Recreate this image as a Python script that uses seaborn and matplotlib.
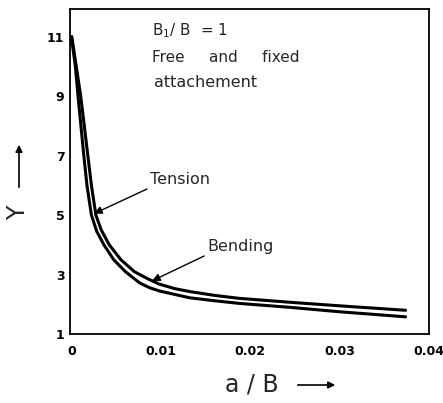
import matplotlib
matplotlib.use("Agg")
import matplotlib.pyplot as plt
import matplotlib.patches as mpatches
import seaborn as sns
import pandas as pd

# Data
tension_x = [0.0, 0.0005, 0.001, 0.0018, 0.0022, 0.0027, 0.0033, 0.0042, 0.0055, 0.007, 0.0085,
             0.0098, 0.0115, 0.0132, 0.016, 0.0188, 0.0244, 0.03, 0.0374]
tension_y = [11.0, 10.0, 9.0, 7.0, 6.0, 5.0, 4.5, 4.0, 3.5, 3.1, 2.86,
             2.68, 2.53, 2.43, 2.3, 2.2, 2.07, 1.95, 1.8]
bending_x = [0.0, 0.0004, 0.0007, 0.00135, 0.0017, 0.0022, 0.0028, 0.0036, 0.0047, 0.006, 0.0076,
             0.0087, 0.0098, 0.0132, 0.016, 0.0188, 0.0244, 0.03, 0.0374]
bending_y = [10.9, 10.0, 9.0, 7.0, 6.0, 5.0, 4.45, 4.0, 3.5, 3.1, 2.72,
             2.56, 2.45, 2.22, 2.12, 2.03, 1.9, 1.75, 1.58]

x_ticks = [0, 0.01, 0.02, 0.03, 0.04]
x_tick_labels = ["0", "0.01", "0.02", "0.03", "0.04"]
y_ticks = [1, 3, 5, 7, 9, 11]
y_tick_labels = ["1", "3", "5", "7", "9", "11"]

df = pd.DataFrame({
    "x": tension_x + bending_x,
    "y": tension_y + bending_y,
    "case": ["Tension"] * len(tension_x) + ["Bending"] * len(bending_x),
})

sns.set_style("white")
plt.rcParams["font.family"] = ["DejaVu Sans"]

fig = plt.figure(figsize=(4.43, 4.03), dpi=100)
ax = fig.add_axes([0.158, 0.171, 0.81, 0.807])

sns.lineplot(data=df, x="x", y="y", hue="case", palette={"Tension": "black", "Bending": "black"},
             sort=False, estimator=None, linewidth=2.2, legend=False, ax=ax)
for ln in ax.get_lines():
    ln.set_solid_joinstyle("round")
    ln.set_solid_capstyle("round")

ax.set_xlim(-0.0002, 0.0399)
ax.set_ylim(1, 11.93)
ax.set_xticks(x_ticks)
ax.set_xticklabels(x_tick_labels, fontsize=9, fontweight="bold")
ax.set_yticks(y_ticks)
ax.set_yticklabels(y_tick_labels, fontsize=9, fontweight="bold")
ax.tick_params(axis="both", direction="in", length=5, width=1.2, colors="black")
ax.tick_params(axis="x", pad=8)
ax.tick_params(axis="y", pad=4)
for s in ax.spines.values():
    s.set_color("black")
    s.set_linewidth(1.3)
ax.set_xlabel("")
ax.set_ylabel("")

ax.text(0.009, 11.2, r"B$_1$/ B  = 1", fontsize=11, va="center", ha="left")
ax.text(0.009, 10.28, "Free     and     fixed", fontsize=11, va="center", ha="left")
ax.text(0.0092, 9.44, "attachement", fontsize=11.5, va="center", ha="left")

ax.annotate("Tension", xy=(0.0025, 5.05), xytext=(0.0088, 6.18), fontsize=11.5,
            va="center", ha="left",
            arrowprops=dict(arrowstyle="-|>", color="black", lw=1.0, shrinkA=0, shrinkB=0,
                            relpos=(0.0, 0.0)))
ax.annotate("Bending", xy=(0.0090, 2.79), xytext=(0.0152, 3.93), fontsize=11.5,
            va="center", ha="left",
            arrowprops=dict(arrowstyle="-|>", color="black", lw=1.0, shrinkA=0, shrinkB=0,
                            relpos=(0.0, 0.0)))

# Axis labels with arrows
fig.text(252 / 443, 1 - 385 / 403, "a / B", fontsize=17, ha="center", va="center")
fig.patches.append(mpatches.FancyArrowPatch(
    (295 / 443, 1 - 385 / 403), (338 / 443, 1 - 385 / 403), transform=fig.transFigure,
    arrowstyle="-|>", mutation_scale=10, color="black", lw=1.2))
fig.text(18 / 443, 1 - 213 / 403, "Y", fontsize=17, rotation=90, ha="center", va="center")
fig.patches.append(mpatches.FancyArrowPatch(
    (19 / 443, 1 - 190 / 403), (19 / 443, 1 - 142 / 403), transform=fig.transFigure,
    arrowstyle="-|>", mutation_scale=10, color="black", lw=1.2))

fig.savefig("out.png", dpi=100)
